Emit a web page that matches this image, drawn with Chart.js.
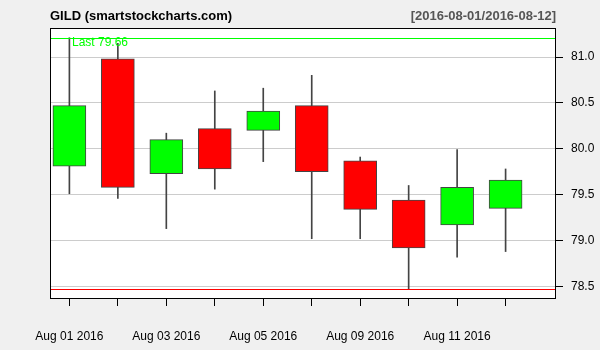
<!DOCTYPE html>
<html>
<head>
<meta charset="utf-8">
<script src="https://cdn.jsdelivr.net/npm/chart.js@4/dist/chart.umd.min.js"></script>
<style>
  html, body { margin: 0; padding: 0; background: #f0f0f0; }
  #wrap { width: 600px; height: 350px; }
</style>
</head>
<body>
<div id="wrap"><canvas id="chart" width="600" height="350"></canvas></div>
<script>
// GILD daily candles, 2016-08-01 .. 2016-08-12
const dates = ['Aug 01 2016', 'Aug 02 2016', 'Aug 03 2016', 'Aug 04 2016', 'Aug 05 2016',
               'Aug 08 2016', 'Aug 09 2016', 'Aug 10 2016', 'Aug 11 2016', 'Aug 12 2016'];
const opens  = [79.81, 80.98, 79.73, 80.22, 80.20, 80.47, 79.87, 79.44, 79.17, 79.35];
const highs  = [81.21, 81.15, 80.17, 80.63, 80.66, 80.80, 79.91, 79.60, 79.99, 79.78];
const lows   = [79.51, 79.46, 79.13, 79.56, 79.86, 79.02, 79.02, 78.47, 78.82, 78.88];
const closes = [80.47, 79.58, 80.10, 79.78, 80.41, 79.75, 79.34, 78.92, 79.58, 79.66];
const yTicks = [78.5, 79.0, 79.5, 80.0, 80.5, 81.0];

const FONT = '"Liberation Sans", Arial, sans-serif';

const idx = dates.map((d, i) => i);
const bodies = idx.map(i => ({ x: i, y: [opens[i], closes[i]] }));
const wicks = idx.map(i => ({ x: i, y: [lows[i], highs[i]] }));
const bodyColors = idx.map(i => closes[i] >= opens[i] ? '#00ff00' : '#ff0000');
const lastClose = closes[closes.length - 1];
const rangeHigh = Math.max(...highs);
const rangeLow = Math.min(...lows);

// background, plot frame, title and high/low lines
const framePlugin = {
    id: 'frame',
    beforeDraw(chart) {
        const { ctx, chartArea: a } = chart;
        ctx.save();
        ctx.fillStyle = '#f0f0f0';
        ctx.fillRect(0, 0, chart.width, chart.height);
        ctx.fillStyle = '#ffffff';
        ctx.fillRect(a.left, a.top, a.right - a.left, a.bottom - a.top);
        ctx.restore();
    },
    afterDatasetsDraw(chart) {
        const { ctx, chartArea: a, scales } = chart;
        const y = scales.y;
        ctx.save();
        // range high / low lines
        ctx.lineWidth = 1;
        ctx.strokeStyle = '#00ff00';
        let py = Math.round(y.getPixelForValue(rangeHigh)) + 0.5;
        ctx.beginPath(); ctx.moveTo(a.left, py); ctx.lineTo(a.right, py); ctx.stroke();
        ctx.strokeStyle = '#ff0000';
        py = Math.round(y.getPixelForValue(rangeLow)) + 0.5;
        ctx.beginPath(); ctx.moveTo(a.left, py); ctx.lineTo(a.right, py); ctx.stroke();

        ctx.font = '12px ' + FONT;
        ctx.fillStyle = '#00ff00';
        ctx.textBaseline = 'middle';
        ctx.textAlign = 'left';
        ctx.fillText('Last ' + lastClose.toFixed(2), a.left + 22, y.getPixelForValue(rangeHigh) + 5);

        // frame
        ctx.strokeStyle = '#000000';
        ctx.strokeRect(a.left + 0.5, a.top + 0.5, a.right - a.left - 1, a.bottom - a.top);

        // titles
        ctx.font = 'bold 13px ' + FONT;
        ctx.fillStyle = '#000000';
        ctx.fillText('GILD (smartstockcharts.com)', a.left, 16);
        ctx.textAlign = 'right';
        ctx.fillStyle = '#555555';
        ctx.fillText('[2016-08-01/2016-08-12]', a.right, 16);
        ctx.restore();
    }
};

const ctx = document.getElementById('chart').getContext('2d');
new Chart(ctx, {
    type: 'bar',
    data: {
        datasets: [{
            label: 'body',
            data: bodies,
            backgroundColor: bodyColors,
            borderColor: '#444444',
            borderWidth: 1,
            borderSkipped: false,
            barThickness: 33,
            grouped: false,
            order: 1
        }, {
            label: 'wick',
            data: wicks,
            backgroundColor: '#444444',
            borderWidth: 0,
            barThickness: 1,
            grouped: false,
            order: 2
        }]
    },
    options: {
        responsive: false,
        animation: false,
        layout: { padding: { left: 50, top: 28, right: 0, bottom: 0 } },
        plugins: {
            legend: { display: false },
            tooltip: { enabled: false }
        },
        scales: {
            x: {
                type: 'linear',
                offset: false,
                min: -0.4,
                max: 10.04,
                afterBuildTicks: s => { s.ticks = idx.map(v => ({ value: v })); },
                afterFit: s => { s.height = 52; },
                border: { display: false },
                grid: {
                    offset: false,
                    drawOnChartArea: false,
                    drawTicks: true,
                    tickLength: 8,
                    tickColor: '#000000'
                },
                ticks: {
                    autoSkip: false,
                    maxRotation: 0,
                    padding: 23,
                    color: '#000000',
                    font: { family: FONT, size: 12 },
                    callback: v => (v % 2 === 0) ? dates[v] : ''
                }
            },
            y: {
                position: 'right',
                min: 78.374,
                max: 81.316,
                afterBuildTicks: s => { s.ticks = yTicks.map(v => ({ value: v })); },
                afterFit: s => { s.width = 44; },
                border: { display: false },
                grid: {
                    color: '#cccccc',
                    lineWidth: 1,
                    drawTicks: true,
                    tickLength: 7,
                    tickColor: '#000000'
                },
                ticks: {
                    padding: 8,
                    color: '#000000',
                    font: { family: FONT, size: 12 },
                    callback: v => v.toFixed(1)
                }
            }
        }
    },
    plugins: [framePlugin]
});
</script>
</body>
</html>
